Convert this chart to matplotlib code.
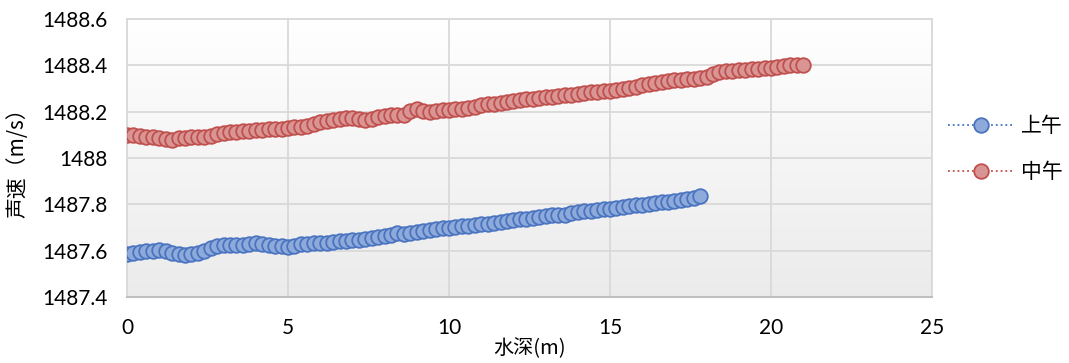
import numpy as np
import matplotlib
matplotlib.use("Agg")
import matplotlib.pyplot as plt
from matplotlib.lines import Line2D
from matplotlib.colors import LinearSegmentedColormap

plt.rcParams['font.family'] = ['Noto Sans CJK SC', 'DejaVu Sans']

# ---- data ----
depth_am = [0.0, 0.2, 0.4, 0.6, 0.8, 1.0, 1.2, 1.4, 1.6, 1.8,
            2.0, 2.2, 2.4, 2.6, 2.8, 3.0, 3.2, 3.4, 3.6, 3.8,
            4.0, 4.2, 4.4, 4.6, 4.8, 5.0, 5.2, 5.4, 5.6, 5.8,
            6.0, 6.2, 6.4, 6.6, 6.8, 7.0, 7.2, 7.4, 7.6, 7.8,
            8.0, 8.2, 8.4, 8.6, 8.8, 9.0, 9.2, 9.4, 9.6, 9.8,
            10.0, 10.2, 10.4, 10.6, 10.8, 11.0, 11.2, 11.4, 11.6, 11.8,
            12.0, 12.2, 12.4, 12.6, 12.8, 13.0, 13.2, 13.4, 13.6, 13.8,
            14.0, 14.2, 14.4, 14.6, 14.8, 15.0, 15.2, 15.4, 15.6, 15.8,
            16.0, 16.2, 16.4, 16.6, 16.8, 17.0, 17.2, 17.4, 17.6, 17.8]
speed_am = [1487.586, 1487.590, 1487.595, 1487.598, 1487.600, 1487.602, 1487.598, 1487.588, 1487.584, 1487.582,
            1487.584, 1487.590, 1487.600, 1487.612, 1487.620, 1487.624, 1487.626, 1487.624, 1487.626, 1487.630,
            1487.634, 1487.628, 1487.624, 1487.621, 1487.618, 1487.617, 1487.622, 1487.628, 1487.630, 1487.633,
            1487.632, 1487.634, 1487.638, 1487.640, 1487.642, 1487.645, 1487.648, 1487.650, 1487.655, 1487.658,
            1487.662, 1487.668, 1487.675, 1487.672, 1487.678, 1487.682, 1487.686, 1487.690, 1487.694, 1487.698,
            1487.700, 1487.703, 1487.706, 1487.708, 1487.712, 1487.715, 1487.716, 1487.720, 1487.723, 1487.728,
            1487.732, 1487.735, 1487.736, 1487.740, 1487.744, 1487.750, 1487.755, 1487.752, 1487.756, 1487.762,
            1487.766, 1487.770, 1487.772, 1487.775, 1487.778, 1487.780, 1487.786, 1487.790, 1487.792, 1487.795,
            1487.798, 1487.800, 1487.804, 1487.808, 1487.812, 1487.815, 1487.818, 1487.822, 1487.826, 1487.835]

depth_noon = [0.0, 0.2, 0.4, 0.6, 0.8, 1.0, 1.2, 1.4, 1.6, 1.8,
              2.0, 2.2, 2.4, 2.6, 2.8, 3.0, 3.2, 3.4, 3.6, 3.8,
              4.0, 4.2, 4.4, 4.6, 4.8, 5.0, 5.2, 5.4, 5.6, 5.8,
              6.0, 6.2, 6.4, 6.6, 6.8, 7.0, 7.2, 7.4, 7.6, 7.8,
              8.0, 8.2, 8.4, 8.6, 8.8, 9.0, 9.2, 9.4, 9.6, 9.8,
              10.0, 10.2, 10.4, 10.6, 10.8, 11.0, 11.2, 11.4, 11.6, 11.8,
              12.0, 12.2, 12.4, 12.6, 12.8, 13.0, 13.2, 13.4, 13.6, 13.8,
              14.0, 14.2, 14.4, 14.6, 14.8, 15.0, 15.2, 15.4, 15.6, 15.8,
              16.0, 16.2, 16.4, 16.6, 16.8, 17.0, 17.2, 17.4, 17.6, 17.8,
              18.0, 18.2, 18.4, 18.6, 18.8, 19.0, 19.2, 19.4, 19.6, 19.8,
              20.0, 20.2, 20.4, 20.6, 20.8, 21.0]
speed_noon = [1488.100, 1488.098, 1488.095, 1488.092, 1488.090, 1488.088, 1488.082, 1488.078, 1488.085, 1488.088,
              1488.090, 1488.090, 1488.092, 1488.095, 1488.102, 1488.108, 1488.112, 1488.112, 1488.115, 1488.118,
              1488.120, 1488.122, 1488.124, 1488.125, 1488.127, 1488.129, 1488.132, 1488.135, 1488.138, 1488.148,
              1488.154, 1488.160, 1488.165, 1488.170, 1488.173, 1488.172, 1488.168, 1488.166, 1488.168, 1488.175,
              1488.180, 1488.184, 1488.187, 1488.185, 1488.205, 1488.210, 1488.204, 1488.200, 1488.203, 1488.206,
              1488.208, 1488.210, 1488.212, 1488.215, 1488.222, 1488.228, 1488.232, 1488.235, 1488.238, 1488.242,
              1488.246, 1488.250, 1488.253, 1488.256, 1488.258, 1488.262, 1488.265, 1488.267, 1488.270, 1488.274,
              1488.277, 1488.280, 1488.283, 1488.285, 1488.288, 1488.290, 1488.294, 1488.298, 1488.303, 1488.308,
              1488.314, 1488.320, 1488.325, 1488.328, 1488.332, 1488.336, 1488.338, 1488.340, 1488.342, 1488.345,
              1488.350, 1488.362, 1488.372, 1488.375, 1488.377, 1488.380, 1488.382, 1488.384, 1488.386, 1488.388,
              1488.390, 1488.393, 1488.398, 1488.400, 1488.402, 1488.402]

series_names = ['上午', '中午']
x_ticks = [0, 5, 10, 15, 20, 25]
y_ticks = [1487.4, 1487.6, 1487.8, 1488.0, 1488.2, 1488.4, 1488.6]
y_tick_labels = ['1487.4', '1487.6', '1487.8', '1488', '1488.2', '1488.4', '1488.6']

# ---- figure ----
fig = plt.figure(figsize=(10.69, 3.63), dpi=100)
ax = fig.add_axes([127/1069, 1 - 297/363, (932 - 127)/1069, (297 - 19)/363])
ax.set_xlim(0, 25)
ax.set_ylim(1487.4, 1488.6)

# gradient background
grad = np.linspace(0, 1, 256).reshape(-1, 1)
cmap = LinearSegmentedColormap.from_list('bg', ['#ebebeb', '#ffffff'])
ax.imshow(grad, extent=[0, 25, 1487.4, 1488.6], origin='lower', aspect='auto',
          cmap=cmap, zorder=0)

ax.set_xticks(x_ticks)
ax.set_yticks(y_ticks)
ax.set_yticklabels(y_tick_labels)
ax.grid(True, color='#d9d9d9', linewidth=1.3, zorder=1)
ax.set_axisbelow(True)
for s in ['top', 'right', 'left']:
    ax.spines[s].set_color('#d9d9d9')
    ax.spines[s].set_linewidth(1.3)
ax.spines['bottom'].set_color('#bfbfbf')
ax.spines['bottom'].set_linewidth(1.5)
ax.tick_params(length=0, labelsize=15)
ax.tick_params(axis='y', pad=14)
ax.tick_params(axis='x', pad=15)
for lab in ax.get_xticklabels() + ax.get_yticklabels():
    lab.set_family(['Lato', 'DejaVu Sans'])

ax.plot(depth_am, speed_am, linestyle=':', color='#4472c4', linewidth=1,
        marker='o', markersize=10.5, markerfacecolor='#8eaadb',
        markeredgecolor='#4a74c0', markeredgewidth=1.3, zorder=3)
ax.plot(depth_noon, speed_noon, linestyle=':', color='#c0504d', linewidth=1,
        marker='o', markersize=10.5, markerfacecolor='#d99594',
        markeredgecolor='#c0504d', markeredgewidth=1.3, zorder=3)

ax.set_xlabel('水深(m)', fontsize=14.5)
ax.set_ylabel('声速（m/s）', fontsize=15)
ax.xaxis.set_label_coords(0.5, -0.147)
ax.yaxis.set_label_coords(-0.122, 0.5)

handles = [
    Line2D([], [], linestyle=':', color='#4472c4', linewidth=1.3, marker='o',
           markersize=10.5, markerfacecolor='#8eaadb', markeredgecolor='#4a74c0',
           markeredgewidth=1.3),
    Line2D([], [], linestyle=':', color='#c0504d', linewidth=1.3, marker='o',
           markersize=10.5, markerfacecolor='#d99594', markeredgecolor='#c0504d',
           markeredgewidth=1.3),
]
fig.legend(handles, series_names, loc='center left', bbox_to_anchor=(938/1069, 1 - 149/363),
           frameon=False, fontsize=15, handlelength=3.1, labelspacing=1.15,
           handletextpad=0.4, borderpad=0)

fig.savefig('out.png', dpi=100)
